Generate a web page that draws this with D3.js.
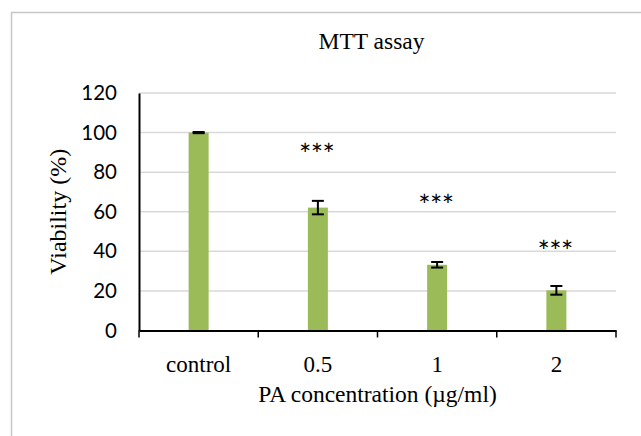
<!DOCTYPE html>
<html>
<head>
<meta charset="utf-8">
<script src="https://cdn.jsdelivr.net/npm/d3@7"></script>
<style>
  html, body { margin: 0; padding: 0; background: #fff; }
  svg { display: block; }
</style>
</head>
<body>
<svg id="chart" width="641" height="436"></svg>
<script>
// ---- data ----
const categories = ["control", "0.5", "1", "2"];
const viability = [100, 62.1, 33.2, 20.3];
const errors = [0.3, 3.4, 1.4, 2.2];
const significance = ["", "***", "***", "***"];
const significanceY = [null, 92.1, 66.4, 43.2];
const yTicks = [0, 20, 40, 60, 80, 100, 120];
const chartTitle = "MTT assay";
const xTitle = "PA concentration (\u00B5g/ml)";
const yTitle = "Viability (%)";

(function () {
// ---- layout ----
const svg = d3.select("#chart");
const plotLeft = 139, plotRight = 616, plotTop = 93, plotBottom = 330.5;
const serif = "'Liberation Serif', 'Times New Roman', serif";
const sans = "Lato, 'Liberation Sans', sans-serif";

// outer frame
svg.append("rect")
  .attr("x", 11.5).attr("y", 12.5)
  .attr("width", 700).attr("height", 500)
  .attr("fill", "#fff")
  .attr("stroke", "#c6c6c6").attr("stroke-width", 1.5);

const x = d3.scaleBand().domain(categories).range([plotLeft, plotRight]);
const y = d3.scaleLinear().domain([0, 120]).range([plotBottom, plotTop]);

// gridlines
svg.append("g")
  .selectAll("line").data(yTicks.filter(d => d > 0)).join("line")
  .attr("x1", plotLeft).attr("x2", plotRight)
  .attr("y1", d => y(d)).attr("y2", d => y(d))
  .attr("stroke", "#d9d9d9").attr("stroke-width", 1.5);

// bars
const barW = 20;
svg.append("g")
  .selectAll("rect").data(categories).join("rect")
  .attr("x", d => x(d) + x.bandwidth() / 2 - barW / 2)
  .attr("width", barW)
  .attr("y", (d, i) => y(viability[i]))
  .attr("height", (d, i) => y(0) - y(viability[i]))
  .attr("fill", "#9bbb59");

// error bars
const eb = svg.append("g").attr("stroke", "#000").attr("stroke-width", 2);
categories.forEach((c, i) => {
  const cx = x(c) + x.bandwidth() / 2;
  const hi = y(viability[i] + errors[i]), lo = y(viability[i] - errors[i]);
  eb.append("line").attr("x1", cx).attr("x2", cx).attr("y1", hi).attr("y2", lo);
  eb.append("line").attr("x1", cx - 6).attr("x2", cx + 6).attr("y1", hi).attr("y2", hi);
  eb.append("line").attr("x1", cx - 6).attr("x2", cx + 6).attr("y1", lo).attr("y2", lo);
});

// significance stars
svg.append("g")
  .selectAll("text").data(categories.filter((c, i) => significance[i])).join("text")
  .attr("x", d => x(d) + x.bandwidth() / 2 - 1)
  .attr("y", d => y(significanceY[categories.indexOf(d)]) + 17)
  .attr("text-anchor", "middle")
  .attr("font-family", sans).attr("font-size", 29)
  .attr("textLength", 36).attr("lengthAdjust", "spacing")
  .attr("fill", "#000")
  .text(d => significance[categories.indexOf(d)]);

// y axis
const yAxis = svg.append("g").attr("transform", `translate(${plotLeft},0)`)
  .call(d3.axisLeft(y).tickValues(yTicks).tickSize(0).tickPadding(22));
yAxis.select(".domain").attr("stroke", "#000").attr("stroke-width", 2);
yAxis.selectAll("text")
  .attr("font-family", sans).attr("font-size", 20.5).attr("fill", "#000");

// x axis
const xAxis = svg.append("g").attr("transform", `translate(0,${plotBottom})`)
  .call(d3.axisBottom(x).tickSize(0).tickPadding(25));
xAxis.select(".domain").attr("stroke", "#000").attr("stroke-width", 2);
xAxis.selectAll("text")
  .attr("font-family", serif).attr("font-size", 23).attr("fill", "#000");
// boundary ticks between categories
const bounds = categories.map(c => x(c)).concat([x(categories[categories.length - 1]) + x.bandwidth()]);
xAxis.append("g").selectAll("line").data(bounds).join("line")
  .attr("x1", d => d).attr("x2", d => d)
  .attr("y1", 0).attr("y2", 7)
  .attr("stroke", "#000").attr("stroke-width", 1.5);

// titles
svg.append("text")
  .attr("x", 371.5).attr("y", 49)
  .attr("text-anchor", "middle")
  .attr("font-family", serif).attr("font-size", 23.5).attr("fill", "#000")
  .text(chartTitle);

svg.append("text")
  .attr("x", (plotLeft + plotRight) / 2).attr("y", 401.5)
  .attr("text-anchor", "middle")
  .attr("font-family", serif).attr("font-size", 23.5).attr("fill", "#000")
  .text(xTitle);

svg.append("text")
  .attr("transform", `translate(66,${(plotTop + plotBottom) / 2}) rotate(-90)`)
  .attr("text-anchor", "middle")
  .attr("font-family", serif).attr("font-size", 24).attr("fill", "#000")
  .text(yTitle);
})();
</script>
</body>
</html>
